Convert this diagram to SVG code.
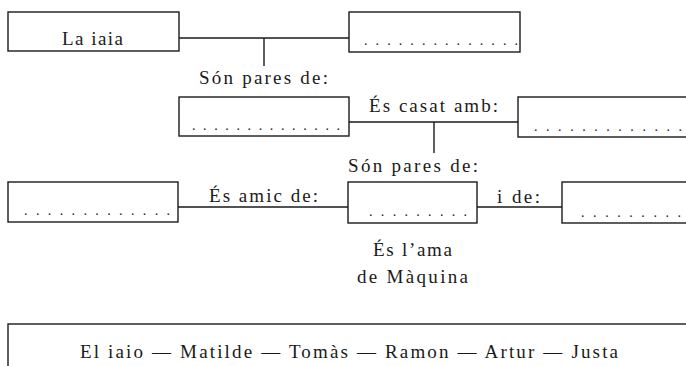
<svg xmlns="http://www.w3.org/2000/svg" width="686" height="366" viewBox="0 0 686 366">
<style>
.box{fill:#fff;stroke:#1a1a1a;stroke-width:1.4}
.ln{stroke:#1a1a1a;stroke-width:1.4;fill:none}
text{font-family:"Liberation Serif","Times New Roman",serif;font-size:19px;fill:#1a1a1a}
.dots{font-size:14px}
</style>
<rect width="686" height="366" fill="#fff"/>
<g id="connectors">
<path class="ln" d="M179 38H349M264 38V66"/>
<path class="ln" d="M349 122H518M434 122V153"/>
<path class="ln" d="M178 207H348M477 207H562"/>
</g>
<g id="labels">
<text x="199" y="84" textLength="129" lengthAdjust="spacing">Són pares de:</text>
<text x="369" y="112" textLength="129" lengthAdjust="spacing">És casat amb:</text>
<text x="348" y="172" textLength="130" lengthAdjust="spacing">Són pares de:</text>
<text x="209" y="202" textLength="109" lengthAdjust="spacing">És amic de:</text>
<text x="497" y="203" textLength="43" lengthAdjust="spacing">i de:</text>
</g>
<g id="node-iaia">
<rect class="box" x="8" y="12" width="171" height="39"/>
<text x="62" y="45" textLength="61" lengthAdjust="spacing">La iaia</text>
</g>
<g id="node-b">
<rect class="box" x="349" y="12" width="171" height="40"/>
<text class="dots" x="364" y="45" textLength="154" lengthAdjust="spacing">. . . . . . . . . . . . . .</text>
</g>
<g id="node-c">
<rect class="box" x="179" y="97" width="170" height="39"/>
<text class="dots" x="192" y="130" textLength="148" lengthAdjust="spacing">. . . . . . . . . . . . . .</text>
</g>
<g id="node-d">
<rect class="box" x="518" y="97" width="200" height="40"/>
<text class="dots" x="534" y="131" textLength="148" lengthAdjust="spacing">. . . . . . . . . . . . .</text>
</g>
<g id="node-e">
<rect class="box" x="8" y="182" width="170" height="40"/>
<text class="dots" x="24" y="215" textLength="146" lengthAdjust="spacing">. . . . . . . . . . . . .</text>
</g>
<g id="node-f">
<rect class="box" x="348" y="182" width="129" height="41"/>
<text class="dots" x="369" y="216" textLength="98" lengthAdjust="spacing">. . . . . . . . .</text>
<text x="373" y="256" textLength="79" lengthAdjust="spacing">És l’ama</text>
<text x="357" y="283" textLength="111" lengthAdjust="spacing">de Màquina</text>
</g>
<g id="node-g">
<rect class="box" x="562" y="182" width="200" height="41"/>
<text class="dots" x="581" y="217" textLength="100" lengthAdjust="spacing">. . . . . . . . .</text>
</g>
<g id="node-list">
<rect class="box" x="8" y="324" width="700" height="60"/>
<text x="80" y="358" textLength="538" lengthAdjust="spacing">El iaio — Matilde — Tomàs — Ramon — Artur — Justa</text>
</g>
</svg>
